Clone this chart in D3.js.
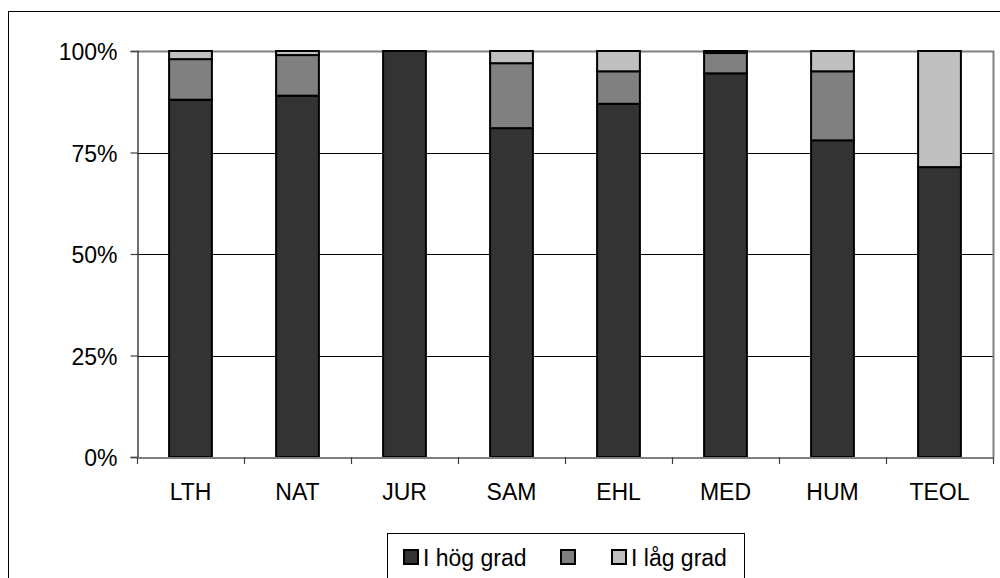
<!DOCTYPE html>
<html><head><meta charset="utf-8">
<script src="https://cdn.jsdelivr.net/npm/d3@7"></script>
<style>body{margin:0;background:#fff}svg{display:block;font-family:"Liberation Sans",Arial,sans-serif}</style>
</head><body><svg id="c" width="1000" height="578"></svg>
<script>
const categories = ["LTH","NAT","JUR","SAM","EHL","MED","HUM","TEOL"];
const seriesNames = ["I hög grad","","I låg grad"];
const hog = [88, 89, 100, 81, 87, 94.5, 78, 71.4];
const mellan = [10, 10, 0, 16, 8, 5, 17, 0];
const lag = [2, 1, 0, 3, 5, 0.5, 5, 28.6];
const yTicks = [0, 25, 50, 75, 100];
const colors = ["#333333","#808080","#c0c0c0"];

const svg = d3.select("#c");
const fs = 23;
// outer frame
svg.append("rect").attr("x",8.5).attr("y",11.5).attr("width",1100).attr("height",700)
  .attr("fill","none").attr("stroke","#000").attr("stroke-width",1);

const x = d3.scaleBand().domain(categories).range([137,993]).padding(0);
const y = d3.scaleLinear().domain([0,100]).range([457,51]);

// gridlines
svg.append("g").selectAll("line").data(yTicks.filter(t=>t>0&&t<100)).join("line")
  .attr("x1",137).attr("x2",993).attr("y1",d=>Math.round(y(d))+0.5).attr("y2",d=>Math.round(y(d))+0.5)
  .attr("stroke","#000").attr("stroke-width",1);
// plot border top/right
svg.append("path").attr("d",`M137,${y(100)+0.5}H993.5V457`).attr("fill","none").attr("stroke","#808080").attr("stroke-width",2);

const data = categories.map((c,i)=>({cat:c, s0:hog[i], s1:mellan[i], s2:lag[i]}));
const stack = d3.stack().keys(["s0","s1","s2"])(data);
const bw = x.bandwidth()*0.4;
stack.forEach((layer,k)=>{
  svg.append("g").selectAll("rect").data(layer.filter(d=>d[1]-d[0]>0)).join("rect")
    .attr("x",d=>x(d.data.cat)+x.bandwidth()/2-bw/2)
    .attr("width",bw)
    .attr("y",d=>y(d[1]))
    .attr("height",d=>y(d[0])-y(d[1]))
    .attr("fill",colors[k]).attr("stroke","#000").attr("stroke-width",2);
});

// y axis
const ya = svg.append("g").attr("transform","translate(137.5,0)")
  .call(d3.axisLeft(y).tickValues(yTicks).tickFormat(d=>d+"%").tickSize(7).tickPadding(13));
ya.select(".domain").attr("stroke","#404040").attr("stroke-width",1.5);
ya.selectAll(".tick line").attr("stroke","#404040").attr("stroke-width",1.2);
ya.selectAll("text").attr("font-size",fs).attr("fill","#000").attr("dy","0.38em").attr("font-family","Liberation Sans, Arial, sans-serif");

// x axis
const xa = svg.append("g").attr("transform","translate(0,457.5)")
  .call(d3.axisBottom(x).tickSize(0).tickPadding(26));
xa.select(".domain").attr("stroke","#808080").attr("stroke-width",2);
xa.selectAll("text").attr("font-size",fs).attr("fill","#000").attr("font-family","Liberation Sans, Arial, sans-serif");
svg.append("g").selectAll("line").data(d3.range(categories.length+1)).join("line")
  .attr("x1",i=>137.5+i*x.step()).attr("x2",i=>137.5+i*x.step())
  .attr("y1",457).attr("y2",464).attr("stroke","#404040").attr("stroke-width",1.2);

// legend
svg.append("rect").attr("x",387.5).attr("y",533.5).attr("width",357).attr("height",80)
  .attr("fill","#fff").attr("stroke","#000").attr("stroke-width",1);
const legX = [403, 560, 611];
const lg = svg.append("g").selectAll("g").data(seriesNames).join("g")
  .attr("transform",(d,i)=>`translate(${legX[i]},549)`);
lg.append("rect").attr("width",14).attr("height",14).attr("x",1).attr("y",1)
  .attr("fill",(d,i)=>colors[i]).attr("stroke","#000").attr("stroke-width",2);
lg.append("text").attr("x",20).attr("y",16.5).attr("font-size",fs).text(d=>d);
</script></body></html>
